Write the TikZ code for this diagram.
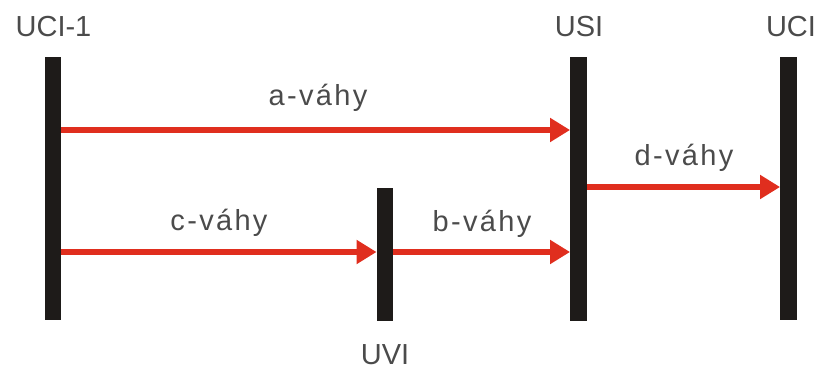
\documentclass[tikz,border=0pt]{standalone}
\usepackage{fontspec}
\setmainfont{Liberation Sans}
\usetikzlibrary{arrows.meta}
\definecolor{barblack}{RGB}{30,27,25}
\definecolor{arrred}{RGB}{224,46,30}
\definecolor{txtgray}{RGB}{75,75,75}
\tikzset{
  bar/.style={rectangle, fill=barblack, draw=none, inner sep=0pt, minimum width=16.5pt},
  lbl/.style={anchor=base, inner sep=0pt, text=txtgray, font=\fontsize{29}{34}\selectfont},
  wlbl/.style={lbl, font=\fontsize{29}{34}\selectfont\addfontfeature{LetterSpace=8}},
  flow/.style={draw=arrred, line width=5.5pt, -{Triangle[length=20pt,width=23pt]}}
}
\begin{document}
\begin{tikzpicture}[x=1pt,y=-1pt]
\useasboundingbox (0,0) rectangle (819,372);
% bars
\node[bar, minimum height=263pt] (uci1) at (53,188.5) {};
\node[bar, minimum height=264pt] (usi) at (578.5,189) {};
\node[bar, minimum height=263pt] (uci) at (788.5,188.5) {};
\node[bar, minimum height=133pt] (uvi) at (385,254.5) {};
% titles
\node[lbl] (tuci1) at (53.5,36) {UCI-1};
\node[lbl] (tusi) at (579,36) {USI};
\node[lbl] (tuci) at (791,36) {UCI};
\node[lbl] (tuvi) at (385,364) {UVI};
% arrow labels
\node[wlbl] (la) at (318,105) {a-váhy};
\node[wlbl] (lc) at (219,230) {c-váhy};
\node[wlbl] (lb) at (482,231) {b-váhy};
\node[wlbl] (ld) at (684,165) {d-váhy};
% arrows
\draw[flow] (uci1.east |- 0,130) -- (usi.west |- 0,130);
\draw[flow] (uci1.east |- 0,252) -- (uvi.west |- 0,252);
\draw[flow] (uvi.east |- 0,252) -- (usi.west |- 0,252);
\draw[flow] (usi.east |- 0,187) -- (uci.west |- 0,187);
\end{tikzpicture}
\end{document}
